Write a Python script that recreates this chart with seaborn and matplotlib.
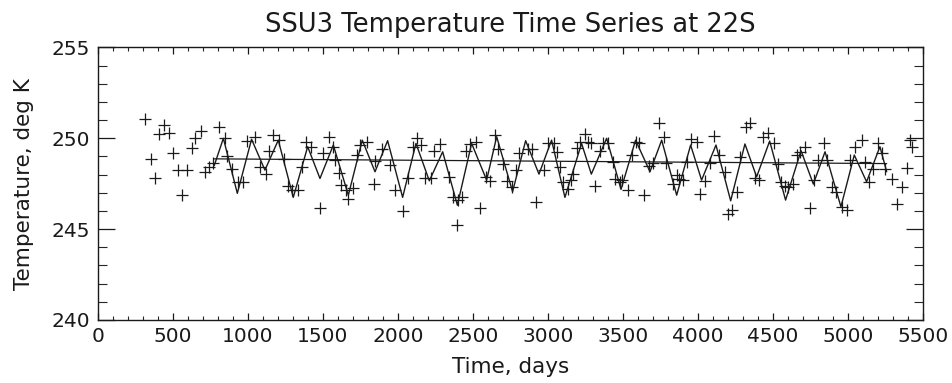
import matplotlib
matplotlib.use("Agg")
import numpy as np
import pandas as pd
import seaborn as sns
import matplotlib.pyplot as plt
from matplotlib.ticker import MultipleLocator

# ---------------- data ----------------
obs_days = [313, 351, 380, 409, 440, 475, 502, 536, 562, 596, 624, 647, 687, 713, 742, 764,
            809, 847, 858, 891, 936, 969, 991, 1047, 1080, 1118, 1140, 1165, 1204, 1240,
            1264, 1291, 1336, 1358, 1384, 1420, 1480, 1502, 1540, 1569, 1580, 1607, 1620,
            1651, 1664, 1702, 1724, 1747, 1791, 1842, 1847, 1891, 1945, 1980, 2031, 2069,
            2098, 2124, 2151, 2180, 2218, 2240, 2280, 2342, 2369, 2396, 2402, 2424, 2453,
            2480, 2520, 2547, 2587, 2613, 2647, 2669, 2698, 2729, 2758, 2789, 2806, 2869,
            2896, 2918, 2976, 2998, 3042, 3058, 3080, 3102, 3131, 3153, 3169, 3191, 3213,
            3247, 3264, 3287, 3313, 3347, 3369, 3402, 3436, 3447, 3480, 3496, 3536, 3558,
            3584, 3607, 3640, 3676, 3698, 3742, 3773, 3787, 3831, 3862, 3875, 3902, 3924,
            3951, 3996, 4013, 4047, 4080, 4107, 4142, 4180, 4202, 4224, 4258, 4280, 4320,
            4347, 4380, 4409, 4431, 4469, 4509, 4536, 4553, 4580, 4598, 4636, 4658, 4680,
            4713, 4747, 4776, 4798, 4842, 4858, 4891, 4918, 4958, 4991, 5013, 5047, 5091,
            5113, 5140, 5169, 5202, 5224, 5250, 5292, 5325, 5358, 5391, 5413, 5424]
obs_temp = [251.05, 248.84, 247.79, 250.22, 250.73, 250.31, 249.20, 248.25, 246.87, 248.25,
            249.45, 250.00, 250.42, 248.16, 248.40, 248.65, 250.60, 250.00, 249.02, 248.29,
            247.61, 247.61, 249.87, 250.05, 248.40, 248.05, 249.30, 250.20, 249.90, 248.87,
            247.37, 247.15, 247.15, 248.40, 249.78, 249.54, 246.14, 249.17, 250.09, 249.50,
            248.80, 248.10, 247.42, 247.15, 246.64, 247.24, 249.08, 249.63, 249.81, 247.48,
            248.76, 249.39, 248.55, 247.13, 246.00, 247.79, 249.54, 250.00, 249.63, 247.79,
            247.79, 249.32, 249.67, 247.88, 246.75, 245.22, 246.60, 246.75, 249.32, 249.69,
            249.81, 246.14, 247.88, 247.66, 250.18, 249.39, 248.58, 247.66, 247.30, 248.28,
            249.17, 249.39, 249.39, 246.50, 248.28, 249.75, 249.72, 249.26, 248.40, 247.58,
            247.20, 247.70, 248.05, 249.45, 249.81, 250.22, 249.81, 249.72, 247.40, 249.28,
            249.72, 249.72, 248.71, 247.76, 247.61, 247.70, 247.17, 249.08, 249.81, 249.75,
            246.87, 248.50, 248.62, 250.85, 250.05, 248.62, 247.46, 247.98, 247.74, 247.70,
            248.71, 249.97, 249.81, 246.95, 247.64, 248.65, 250.13, 249.10, 248.16, 245.84,
            246.08, 247.06, 248.99, 250.60, 250.83, 247.79, 247.70, 250.05, 250.30, 249.72,
            248.58, 247.61, 247.37, 247.30, 247.48, 249.08, 249.26, 249.54, 246.14, 247.70,
            248.80, 249.72, 248.80, 247.30, 247.06, 246.23, 246.08, 248.80, 249.54, 249.90,
            248.71, 247.61, 248.29, 249.72, 249.17, 248.32, 247.75, 246.40, 247.33, 248.35,
            249.90, 249.54]

fit_days = [775, 836, 929, 1024, 1113, 1202, 1302, 1398, 1480, 1569, 1669, 1762, 1847, 1931,
            2031, 2120, 2209, 2298, 2396, 2491, 2591, 2658, 2764, 2851, 2940, 3024, 3113,
            3224, 3289, 3391, 3487, 3584, 3680, 3758, 3858, 3951, 4024, 4120, 4218, 4313,
            4391, 4478, 4584, 4687, 4769, 4847, 4953, 5042, 5124, 5213, 5258]
fit_temp = [248.50, 250.00, 246.97, 249.95, 248.25, 249.90, 246.75, 249.54, 247.79, 249.63,
            246.87, 249.90, 248.16, 249.87, 246.75, 249.72, 247.66, 249.26, 246.32, 249.72,
            247.70, 250.09, 247.06, 249.87, 248.03, 249.90, 246.75, 249.72, 248.03, 250.00,
            247.19, 249.90, 248.16, 249.90, 246.87, 249.63, 247.70, 249.63, 246.56, 249.69,
            247.88, 249.85, 246.60, 249.32, 247.48, 249.26, 246.23, 249.08, 247.61, 249.54,
            248.16]

trend_days = [775, 5258]
trend_temp = [248.87, 248.61]

title = "SSU3 Temperature Time Series at 22S"
xlabel = "Time, days"
ylabel = "Temperature, deg K"

# ---------------- plot ----------------
sns.set_style("ticks")
plt.rcParams["font.family"] = ["DejaVu Sans"]

fig = plt.figure(figsize=(9.53, 3.83), dpi=100)
ax = fig.add_axes([0.1028, 0.1645, 0.8657, 0.7115])

ink = "#1a1a1a"
sns.lineplot(x=trend_days, y=trend_temp, ax=ax, color=ink, lw=0.9,
             estimator=None, sort=False)
sns.lineplot(x=fit_days, y=fit_temp, ax=ax, color=ink, lw=1.0,
             estimator=None, sort=False)
sns.scatterplot(x=obs_days, y=obs_temp, ax=ax, marker="+", s=70,
                color=ink, linewidth=0.9, zorder=3)

ax.set_xlim(0, 5500)
ax.set_ylim(240, 255)
ax.xaxis.set_major_locator(MultipleLocator(500))
ax.xaxis.set_minor_locator(MultipleLocator(100))
ax.yaxis.set_major_locator(MultipleLocator(5))
ax.yaxis.set_minor_locator(MultipleLocator(1))

ax.tick_params(axis="x", which="major", direction="in", length=5, width=0.9,
               top=True, bottom=True, labelsize=14.5, pad=5, colors=ink)
ax.tick_params(axis="x", which="minor", direction="in", length=2.6, width=0.8,
               top=True, bottom=True)
ax.tick_params(axis="y", which="major", direction="in", length=12.5, width=0.9,
               left=True, right=True, labelsize=14.5, pad=6, colors=ink)
ax.tick_params(axis="y", which="minor", direction="in", length=6.5, width=0.8,
               left=True, right=True)
for sp in ax.spines.values():
    sp.set_visible(True)
    sp.set_linewidth(1.0)
    sp.set_color(ink)

ax.set_title(title, fontsize=18.5, pad=11, color=ink)
ax.set_xlabel(xlabel, fontsize=15.5, labelpad=8, color=ink)
ax.set_ylabel(ylabel, fontsize=15.5, labelpad=12, color=ink)

fig.savefig("out.png", dpi=100)
